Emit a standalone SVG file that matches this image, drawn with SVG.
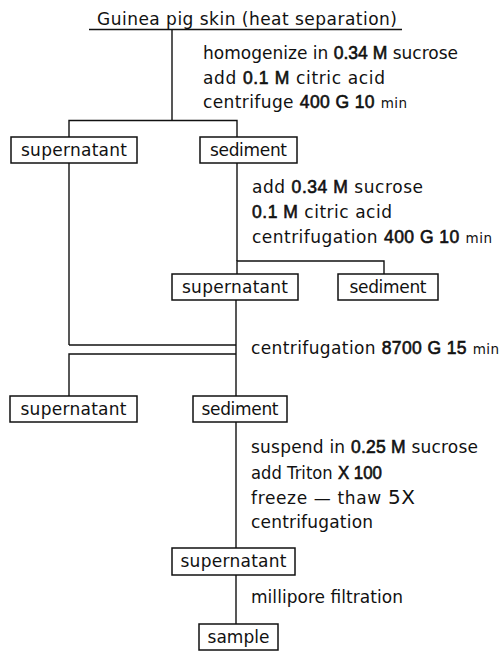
<svg xmlns="http://www.w3.org/2000/svg" width="502" height="651" viewBox="0 0 502 651">
  <style>
    .ln { stroke: #111; stroke-width: 1.4; fill: none; }
    .box { fill: #fff; stroke: #111; stroke-width: 1.5; }
    text { font-family: "DejaVu Sans", "Liberation Sans", sans-serif; font-size: 17px; fill: #111; }
    .lbl { text-anchor: middle; }
    .num { font-family: "Liberation Sans", "DejaVu Sans", sans-serif; font-size: 17.5px; stroke: #111; stroke-width: 0.6; }
    .sm { font-size: 13.5px; }
  </style>

  <!-- connectors -->
  <g id="connectors">
    <line class="ln" x1="89" y1="29.5" x2="402" y2="29.5"/>
    <line class="ln" x1="172" y1="29.5" x2="172" y2="120.5"/>
    <polyline class="ln" points="69,137 69,120.5 237,120.5 237,137"/>
    <line class="ln" x1="69" y1="163" x2="69" y2="345"/>
    <line class="ln" x1="237" y1="163" x2="237" y2="261"/>
    <polyline class="ln" points="237,274 237,261 384,261 384,274"/>
    <line class="ln" x1="236" y1="300" x2="236" y2="396"/>
    <line class="ln" x1="69" y1="345" x2="236" y2="345"/>
    <polyline class="ln" points="69,396 69,354 236,354"/>
    <line class="ln" x1="236" y1="422" x2="236" y2="548"/>
    <line class="ln" x1="236" y1="575" x2="236" y2="624"/>
  </g>

  <!-- starting material -->
  <g id="start">
    <text x="97" y="25" textLength="300" lengthAdjust="spacing">Guinea pig skin (heat separation)</text>
  </g>

  <!-- step notes -->
  <g id="step1">
    <text x="203" y="59" textLength="255" lengthAdjust="spacing">homogenize in <tspan class="num">0.34 M</tspan> sucrose</text>
    <text x="203" y="84" textLength="182" lengthAdjust="spacing">add <tspan class="num">0.1 M</tspan> citric acid</text>
    <text x="203" y="108" textLength="204" lengthAdjust="spacing">centrifuge <tspan class="num">400 G 10</tspan> <tspan class="sm">min</tspan></text>
  </g>
  <g id="step2">
    <text x="252" y="193" textLength="171" lengthAdjust="spacing">add <tspan class="num">0.34 M</tspan> sucrose</text>
    <text x="252" y="218" textLength="140" lengthAdjust="spacing"><tspan class="num">0.1 M</tspan> citric acid</text>
    <text x="252" y="243" textLength="240" lengthAdjust="spacing">centrifugation <tspan class="num">400 G 10</tspan> <tspan class="sm">min</tspan></text>
  </g>
  <g id="step3">
    <text x="251" y="354" textLength="248" lengthAdjust="spacing">centrifugation <tspan class="num">8700 G 15</tspan> <tspan class="sm">min</tspan></text>
  </g>
  <g id="step4">
    <text x="251" y="453" textLength="227" lengthAdjust="spacing">suspend in <tspan class="num">0.25 M</tspan> sucrose</text>
    <text x="251" y="479" textLength="131" lengthAdjust="spacingAndGlyphs">add Triton <tspan class="num">X 100</tspan></text>
    <text x="251" y="504" textLength="164" lengthAdjust="spacing">freeze — thaw <tspan font-size="20">5X</tspan></text>
    <text x="251" y="528" textLength="122" lengthAdjust="spacing">centrifugation</text>
  </g>
  <g id="step5">
    <text x="251" y="603" textLength="152" lengthAdjust="spacing">millipore filtration</text>
  </g>

  <!-- fractions -->
  <g id="supernatant1">
    <rect class="box" x="11" y="137" width="126" height="26"/>
    <text class="lbl" x="74" y="156" textLength="106" lengthAdjust="spacing">supernatant</text>
  </g>
  <g id="sediment1">
    <rect class="box" x="200" y="137" width="97" height="26"/>
    <text class="lbl" x="248.5" y="156" textLength="77" lengthAdjust="spacing">sediment</text>
  </g>
  <g id="supernatant2">
    <rect class="box" x="172" y="274" width="126" height="26"/>
    <text class="lbl" x="235" y="293" textLength="106" lengthAdjust="spacing">supernatant</text>
  </g>
  <g id="sediment2">
    <rect class="box" x="338" y="274" width="100" height="26"/>
    <text class="lbl" x="388" y="293" textLength="77" lengthAdjust="spacing">sediment</text>
  </g>
  <g id="supernatant3">
    <rect class="box" x="10" y="396" width="127" height="26"/>
    <text class="lbl" x="73.5" y="415" textLength="106" lengthAdjust="spacing">supernatant</text>
  </g>
  <g id="sediment3">
    <rect class="box" x="193" y="396" width="94" height="26"/>
    <text class="lbl" x="240" y="415" textLength="77" lengthAdjust="spacing">sediment</text>
  </g>
  <g id="supernatant4">
    <rect class="box" x="172" y="548" width="123" height="27"/>
    <text class="lbl" x="233.5" y="567" textLength="106" lengthAdjust="spacing">supernatant</text>
  </g>
  <g id="sample">
    <rect class="box" x="199" y="624" width="79" height="26"/>
    <text class="lbl" x="238.5" y="643" textLength="62" lengthAdjust="spacing">sample</text>
  </g>
</svg>
